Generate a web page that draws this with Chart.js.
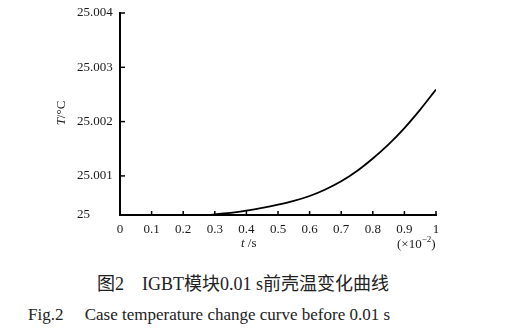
<!DOCTYPE html>
<html>
<head>
<meta charset="utf-8">
<script src="https://cdn.jsdelivr.net/npm/chart.js@4/dist/chart.umd.min.js"></script>
<style>
  body { margin: 0; background: #fff; }
  #wrap { position: relative; width: 505px; height: 333px; }
  canvas { position: absolute; left: 0; top: 0; }
  .cap { position: absolute; font-family: "Liberation Serif", "Noto Sans CJK SC", serif; font-size: 17px; color: #222; white-space: pre; line-height: 22px; }
</style>
</head>
<body>
<div id="wrap">
  <canvas id="chart" width="505" height="260"></canvas>
  <div class="cap" style="left:97px; top:273px; font-size:18px;">图2　IGBT模块0.01 s前壳温变化曲线</div>
  <div class="cap" style="left:28px; top:304px;">Fig.2　 Case temperature change curve before 0.01 s</div>
</div>
<script>
// time, in units of 10^-2 s
const tValues = [0, 0.1, 0.2, 0.3, 0.35, 0.4, 0.45, 0.5, 0.55, 0.6, 0.65, 0.7, 0.75, 0.8, 0.85, 0.9, 0.95, 1.0]
// case temperature, degC
const tempValues = [25.00000, 25.00008, 25.00018, 25.00029, 25.00032, 25.00036, 25.00041, 25.00047, 25.00054,
  25.00063, 25.00075, 25.00090, 25.00109, 25.00132, 25.00158, 25.00188, 25.00222, 25.00259]

const xTicks = [0, 0.1, 0.2, 0.3, 0.4, 0.5, 0.6, 0.7, 0.8, 0.9, 1]
const xTickLabels = ['0', '0.1', '0.2', '0.3', '0.4', '0.5', '0.6', '0.7', '0.8', '0.9', '1']
const yTicks = [25.00028, 25.001, 25.002, 25.003, 25.004]
const yTickLabels = ['25', '25.001', '25.002', '25.003', '25.004']

const serif = '"Liberation Serif", serif'

const axisDecor = {
  id: 'axisDecor',
  afterDraw(chart) {
    const ctx = chart.ctx
    const { left, bottom } = chart.chartArea
    const xs = chart.scales.x
    const ys = chart.scales.y
    ctx.save()
    ctx.strokeStyle = '#000'
    ctx.lineWidth = 1.5
    // inward tick marks
    xTicks.forEach((v, i) => {
      if (i === 0) return
      const px = xs.getPixelForValue(v)
      ctx.beginPath(); ctx.moveTo(px, bottom); ctx.lineTo(px, bottom - 4); ctx.stroke()
    })
    yTicks.forEach((v, i) => {
      if (i === 0) return
      const py = ys.getPixelForValue(v)
      ctx.beginPath(); ctx.moveTo(left, py); ctx.lineTo(left + 5, py); ctx.stroke()
    })

    ctx.fillStyle = '#1a1a1a'
    ctx.textBaseline = 'middle'
    ctx.textAlign = 'left'
    // x title
    ctx.font = 'italic 13px ' + serif
    ctx.fillText('t', 241, 244)
    const tw = ctx.measureText('t').width
    ctx.font = '13px ' + serif
    ctx.fillText(' /s', 241 + tw, 244)

    // (x10^-2)
    let x = 397
    ctx.font = '13px ' + serif
    ctx.fillText('(×10', x, 245)
    x += ctx.measureText('(×10').width
    ctx.font = '9px ' + serif
    ctx.fillText('−2', x, 240)
    x += ctx.measureText('−2').width
    ctx.font = '13px ' + serif
    ctx.fillText(')', x, 245)

    // y title
    ctx.translate(62, 113)
    ctx.rotate(-Math.PI / 2)
    ctx.font = 'italic 13px ' + serif
    const w1 = ctx.measureText('T').width
    ctx.font = '13px ' + serif
    const w2 = ctx.measureText('/°C').width
    const start = -(w1 + w2) / 2
    ctx.font = 'italic 13px ' + serif
    ctx.fillText('T', start, 0)
    ctx.font = '13px ' + serif
    ctx.fillText('/°C', start + w1, 0)
    ctx.restore()
  }
}

new Chart(document.getElementById('chart'), {
  type: 'line',
  data: {
    datasets: [{
      data: tValues.map((t, i) => ({ x: t, y: tempValues[i] })),
      borderColor: '#000',
      borderWidth: 1.8,
      pointRadius: 0,
      cubicInterpolationMode: 'monotone',
      fill: false
    }]
  },
  options: {
    responsive: false,
    animation: false,
    devicePixelRatio: 1,
    layout: { padding: { left: 77, top: 13, right: 69, bottom: 0 } },
    plugins: { legend: { display: false }, tooltip: { enabled: false } },
    scales: {
      x: {
        type: 'linear',
        min: 0,
        max: 1,
        afterBuildTicks: s => { s.ticks = xTicks.map(v => ({ value: v })) },
        afterFit: s => { s.height = 45 },
        grid: { display: false, drawTicks: false },
        border: { display: true, color: '#000', width: 2 },
        ticks: {
          padding: 7,
          maxRotation: 0,
          autoSkip: false,
          color: '#1a1a1a',
          font: { family: serif, size: 13 },
          callback: (v, i) => xTickLabels[i]
        }
      },
      y: {
        type: 'linear',
        min: 25.00028,
        max: 25.004,
        afterBuildTicks: s => { s.ticks = yTicks.map(v => ({ value: v })) },
        afterFit: s => { s.width = 43 },
        grid: { display: false, drawTicks: false },
        border: { display: true, color: '#000', width: 2 },
        ticks: {
          crossAlign: 'far',
          autoSkip: false,
          color: '#1a1a1a',
          font: { family: serif, size: 13 },
          callback: (v, i) => yTickLabels[i]
        }
      }
    }
  },
  plugins: [axisDecor]
})
</script>
</body>
</html>
